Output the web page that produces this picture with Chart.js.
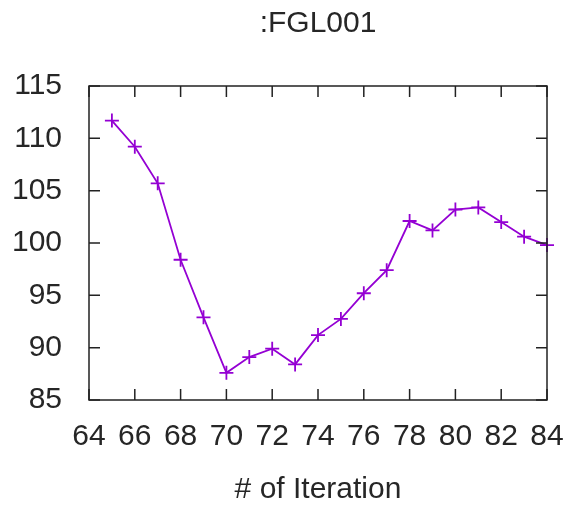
<!DOCTYPE html>
<html>
<head>
<meta charset="utf-8">
<script src="https://cdn.jsdelivr.net/npm/chart.js@4"></script>
<style>
  html, body { margin: 0; padding: 0; background: #fff; }
  canvas { display: block; }
</style>
</head>
<body>
<canvas id="fglChart" width="567" height="505"></canvas>
<script>
const iterations = [65, 66, 67, 68, 69, 70, 71, 72, 73, 74, 75, 76, 77, 78, 79, 80, 81, 82, 83, 84];
const values = [111.7, 109.2, 105.7, 98.4, 92.9, 87.6, 89.1, 89.9, 88.4, 91.2,
                92.75, 95.2, 97.4, 102.1, 101.2, 103.2, 103.4, 102.0, 100.6, 99.8];
const chartTitle = ':FGL001';
const xLabel = '# of Iteration';

const xMin = 64, xMax = 84, xStep = 2;
const yMin = 85, yMax = 115, yStep = 5;

const textColor = '#262626';
const lineColor = '#9400D3';

// gnuplot-like frame with inward ticks on all four sides
const framePlugin = {
    id: 'frame',
    afterDraw(chart) {
        const { ctx, chartArea: a, scales } = chart;
        const tick = 11;
        ctx.save();
        ctx.strokeStyle = '#222';
        ctx.lineWidth = 1.5;
        ctx.strokeRect(a.left, a.top, a.right - a.left, a.bottom - a.top);
        ctx.beginPath();
        scales.x.ticks.forEach(t => {
            const px = scales.x.getPixelForValue(t.value);
            ctx.moveTo(px, a.bottom); ctx.lineTo(px, a.bottom - tick);
            ctx.moveTo(px, a.top); ctx.lineTo(px, a.top + tick);
        });
        scales.y.ticks.forEach(t => {
            const py = scales.y.getPixelForValue(t.value);
            ctx.moveTo(a.left, py); ctx.lineTo(a.left + tick, py);
            ctx.moveTo(a.right, py); ctx.lineTo(a.right - tick, py);
        });
        ctx.stroke();
        ctx.restore();
    }
};

Chart.defaults.font.family = "'Liberation Sans', Arial, sans-serif";
Chart.defaults.color = textColor;

const ctx = document.getElementById('fglChart').getContext('2d');
new Chart(ctx, {
    type: 'line',
    data: {
        datasets: [{
            data: iterations.map((it, i) => ({ x: it, y: values[i] })),
            borderColor: lineColor,
            backgroundColor: lineColor,
            borderWidth: 1.8,
            pointStyle: 'cross',
            pointRadius: 7,
            pointBorderWidth: 1.8,
            pointBorderColor: lineColor,
            tension: 0,
            fill: false,
            clip: false
        }]
    },
    options: {
        responsive: false,
        animation: false,
        layout: { padding: 0 },
        plugins: {
            legend: { display: false },
            tooltip: { enabled: false },
            title: {
                display: true,
                text: chartTitle,
                fullSize: false,
                color: textColor,
                font: { size: 30, weight: 'normal' },
                padding: { top: 6, bottom: 44 }
            }
        },
        scales: {
            x: {
                type: 'linear',
                min: xMin,
                max: xMax,
                grid: { display: false, drawTicks: false },
                border: { display: false },
                ticks: { stepSize: xStep, padding: 19, font: { size: 30 }, color: textColor, maxRotation: 0 },
                title: { display: true, text: xLabel, font: { size: 30, lineHeight: 1 }, color: textColor, padding: { top: 0, bottom: 0 } },
                afterFit: scale => {
                    scale.height = 105;
                    scale.paddingLeft = 0;
                    scale.paddingRight = 20;
                }
            },
            y: {
                min: yMin,
                max: yMax,
                grid: { display: false, drawTicks: false },
                border: { display: false },
                ticks: { stepSize: yStep, padding: 27, font: { size: 30 }, color: textColor },
                afterFit: scale => { scale.width = 89; }
            }
        }
    },
    plugins: [framePlugin]
});
</script>
</body>
</html>
